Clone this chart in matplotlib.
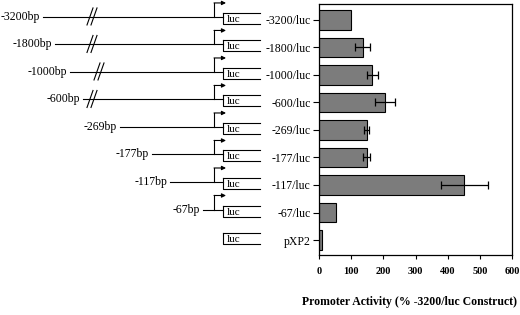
import numpy as np
import matplotlib
matplotlib.use("Agg")
import matplotlib.pyplot as plt

# constructs, top to bottom
constructs = ["-3200/luc", "-1800/luc", "-1000/luc", "-600/luc", "-269/luc",
              "-177/luc", "-117/luc", "-67/luc", "pXP2"]
bp_labels = ["-3200bp", "-1800bp", "-1000bp", "-600bp", "-269bp",
             "-177bp", "-117bp", "-67bp", ""]
activity = [100, 136, 165, 205, 148, 148, 452, 52, 8]
activity_err = [0, 24, 17, 30, 8, 12, 74, 0, 0]
# where the promoter line starts in the schematic (not to scale)
line_start = [43, 55, 70, 83, 120, 152, 170, 203, None]
has_break = [True, True, True, True, False, False, False, False, False]

serif = "Liberation Serif"
plt.rcParams["font.family"] = serif

fig = plt.figure(figsize=(5.2, 3.15), dpi=100)
ax = fig.add_axes([319 / 520, 1 - 255 / 315, 193 / 520, 251 / 315])
ax0 = fig.add_axes([0, 1 - 255 / 315, 318 / 520, 251 / 315])

y = np.arange(len(constructs))
ylim = (8.545, -0.58)

# --- bars
ax.barh(y, activity, height=0.72, color="#7c7c7c", edgecolor="black", linewidth=0.8)
for yi, v, e in zip(y, activity, activity_err):
    if e > 0:
        ax.errorbar(v, yi, xerr=e, fmt="none", ecolor="black", elinewidth=0.9,
                    capsize=3, capthick=0.9)
ax.set_xlim(0, 600)
ax.set_ylim(*ylim)
ax.set_xticks(range(0, 601, 100))
ax.set_yticks(y)
ax.set_yticklabels(constructs, fontsize=8.5)
ax.tick_params(axis="y", length=4, width=0.8, pad=2)
ax.tick_params(axis="x", length=3, width=0.8, pad=6)
for lab in ax.get_xticklabels():
    lab.set_fontweight("bold")
    lab.set_fontsize(7.5)
for s in ax.spines.values():
    s.set_linewidth(0.9)
ax.set_xlabel("Promoter Activity (% -3200/luc Construct)", fontsize=8.5,
              fontweight="bold", labelpad=18)
ax.xaxis.set_label_coords(0.47, -0.165)

# --- schematic of constructs
ax0.set_xlim(0, 318)
ax0.set_ylim(*ylim)
ax0.axis("off")
px = 1 / 27.5  # one pixel in category units
lw = 0.8
box_l, box_r, prom_x = 223, 260, 214
for yi, name, start, brk in zip(y, bp_labels, line_start, has_break):
    ly = yi - 3 * px
    ax0.plot([box_l, box_l, box_r], [yi - 7 * px, yi + 4 * px, yi + 4 * px],
             color="black", lw=lw, clip_on=False)
    ax0.plot([box_l, box_r], [yi - 7 * px, yi - 7 * px], color="black", lw=lw, clip_on=False)
    ax0.text(box_l + 4, yi + 2 * px, "luc", fontsize=8, va="baseline", ha="left")
    if start is None:
        continue
    ax0.plot([start, box_l], [ly, ly], color="black", lw=lw, clip_on=False)
    ax0.text(start - 3, ly, name, fontsize=8.5, ha="right", va="center")
    ax0.plot([prom_x, prom_x], [ly, ly - 14 * px], color="black", lw=lw, clip_on=False)
    ax0.annotate("", xy=(prom_x + 12, ly - 14 * px), xytext=(prom_x, ly - 14 * px),
                 annotation_clip=False,
                 arrowprops=dict(arrowstyle="-|>", lw=lw, color="black",
                                 mutation_scale=6, shrinkA=0, shrinkB=0))
    if brk:
        bx = 90 if yi != 2 else 97
        for dx in (0, 4):
            ax0.plot([bx + dx - 3, bx + dx + 3], [ly + 8 * px, ly - 9 * px],
                     color="black", lw=lw, clip_on=False)

fig.savefig("out.png", dpi=100)
